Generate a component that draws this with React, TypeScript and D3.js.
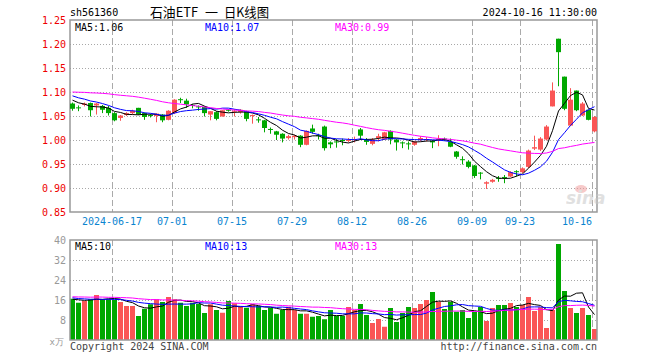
import * as d3 from 'd3';

// daily K-line, sh561360 石油ETF, 2024-06-05 .. 2024-10-16
const dates = [
  '06-05', '06-06', '06-07', '06-11', '06-12', '06-13', '06-14', '06-17', '06-18', '06-19',
  '06-20', '06-21', '06-24', '06-25', '06-26', '06-27', '06-28',
  '07-01', '07-02', '07-03', '07-04', '07-05', '07-08', '07-09', '07-10', '07-11', '07-12',
  '07-15', '07-16', '07-17', '07-18', '07-19', '07-22', '07-23', '07-24', '07-25', '07-26',
  '07-29', '07-30', '07-31',
  '08-01', '08-02', '08-05', '08-06', '08-07', '08-08', '08-09', '08-12', '08-13', '08-14',
  '08-15', '08-16', '08-19', '08-20', '08-21', '08-22', '08-23', '08-26', '08-27', '08-28',
  '08-29', '08-30',
  '09-02', '09-03', '09-04', '09-05', '09-06', '09-09', '09-10', '09-11', '09-12', '09-13',
  '09-18', '09-19', '09-20', '09-23', '09-24', '09-25', '09-26', '09-27', '09-30',
  '10-08', '10-09', '10-10', '10-11', '10-14', '10-15', '10-16',
];

const opens = [
  1.076, 1.068, 1.073, 1.077, 1.072, 1.071, 1.067, 1.056, 1.046, 1.052,
  1.056, 1.067, 1.056, 1.052, 1.05, 1.053, 1.042, 1.056, 1.085, 1.082,
  1.073, 1.07, 1.069, 1.053, 1.058, 1.049, 1.063, 1.06, 1.058, 1.06,
  1.05, 1.043, 1.041, 1.023, 1.018, 1.013, 1.004, 1.006, 1.009, 0.99,
  1.024, 1.01, 1.028, 0.995, 0.997, 1.0, 0.999, 1.0, 1.022, 1.0,
  0.992, 1.004, 1.001, 1.019, 1.001, 0.995, 0.993, 0.99, 1.0, 1.0,
  0.998, 1.001, 1.003, 0.996, 0.976, 0.96, 0.955, 0.947, 0.932, 0.909,
  0.913, 0.921, 0.923, 0.924, 0.935, 0.933, 0.944, 0.982, 0.98, 1.001,
  1.07, 1.211, 1.132, 1.03, 1.103, 1.051, 1.063, 1.018,
];
const highs = [
  1.078, 1.072, 1.078, 1.078, 1.077, 1.073, 1.071, 1.058, 1.052, 1.058,
  1.063, 1.067, 1.057, 1.054, 1.055, 1.054, 1.062, 1.085, 1.088, 1.086,
  1.075, 1.072, 1.07, 1.06, 1.06, 1.062, 1.064, 1.064, 1.064, 1.061,
  1.053, 1.048, 1.042, 1.026, 1.019, 1.014, 1.011, 1.011, 1.01, 1.02,
  1.032, 1.013, 1.03, 0.997, 1.002, 1.003, 1.004, 1.007, 1.025, 1.004,
  1.004, 1.013, 1.017, 1.02, 1.002, 0.997, 0.997, 0.998, 1.008, 1.006,
  1.0, 1.01, 1.005, 1.003, 0.977, 0.966, 0.958, 0.948, 0.933, 0.914,
  0.919, 0.925, 0.927, 0.935, 0.937, 0.943, 0.98, 1.009, 1.006, 1.031,
  1.12, 1.211, 1.132, 1.108, 1.103, 1.079, 1.063, 1.05,
];
const lows = [
  1.061, 1.06, 1.07, 1.049, 1.053, 1.056, 1.051, 1.039, 1.04, 1.05,
  1.053, 1.052, 1.042, 1.047, 1.037, 1.037, 1.041, 1.054, 1.077, 1.067,
  1.066, 1.061, 1.049, 1.041, 1.041, 1.049, 1.059, 1.049, 1.055, 1.039,
  1.034, 1.036, 1.016, 1.013, 1.0, 0.995, 1.001, 1.001, 0.985, 0.989,
  1.013, 1.001, 0.978, 0.983, 0.984, 0.989, 0.995, 0.995, 1.0, 0.99,
  0.989, 0.997, 1.0, 0.991, 0.978, 0.983, 0.98, 0.988, 0.997, 0.997,
  0.983, 0.987, 0.998, 0.985, 0.961, 0.949, 0.941, 0.921, 0.918, 0.898,
  0.911, 0.913, 0.91, 0.923, 0.924, 0.931, 0.941, 0.979, 0.977, 0.999,
  1.07, 1.112, 1.062, 1.029, 1.06, 1.05, 1.041, 1.016,
];
const closes = [
  1.065, 1.067, 1.076, 1.062, 1.076, 1.063, 1.056, 1.041, 1.051, 1.056,
  1.061, 1.053, 1.048, 1.051, 1.055, 1.041, 1.061, 1.084, 1.083, 1.074,
  1.072, 1.068, 1.056, 1.06, 1.044, 1.062, 1.061, 1.061, 1.063, 1.044,
  1.052, 1.042, 1.025, 1.021, 1.011, 1.003, 1.008, 1.009, 0.99, 1.019,
  1.017, 1.009, 0.983, 0.991, 0.996, 0.999, 1.0, 1.002, 1.009, 0.996,
  1.001, 1.008, 1.016, 1.001, 0.995, 0.994, 0.992, 0.997, 1.004, 1.002,
  0.995, 1.002, 1.002, 0.986, 0.965, 0.959, 0.944, 0.925, 0.93, 0.912,
  0.917, 0.919, 0.921, 0.933, 0.933, 0.941, 0.978, 0.985, 1.003, 1.028,
  1.103, 1.183, 1.065, 1.084, 1.062, 1.076, 1.042, 1.048,
];
// volume, 万手
const volumes = [
  16.5, 14.9, 15.6, 16.3, 18.0, 16.3, 16.3, 16.0, 15.2, 13.6,
  13.6, 9.6, 12.5, 14.3, 16.3, 15.2, 17.2, 16.3, 14.9, 13.6,
  14.9, 14.4, 10.8, 14.3, 12.0, 10.9, 15.6, 14.7, 13.2, 12.9,
  14.3, 13.6, 12.0, 12.9, 10.5, 12.0, 13.3, 12.0, 10.5, 10.5,
  9.3, 9.6, 8.3, 12.0, 9.6, 9.6, 13.2, 12.0, 14.4, 10.0,
  6.8, 8.4, 5.3, 12.8, 7.2, 10.8, 13.2, 12.8, 14.4, 16.0,
  19.2, 15.3, 12.4, 15.3, 11.3, 12.0, 8.8, 11.2, 13.2, 7.6,
  12.8, 14.0, 14.0, 14.8, 13.2, 14.0, 17.2, 11.6, 13.1, 4.8,
  12.0, 38.4, 19.6, 12.8, 10.8, 12.8, 10.0, 4.4,
];

// sessions before the window, backed out of where the MA lines start
const prevCloses = [
  1.08, 1.085, 1.09, 1.088, 1.084, 1.086, 1.092, 1.09, 1.088, 1.095,
  1.105, 1.112, 1.12, 1.125, 1.128, 1.122, 1.131, 1.124, 1.118, 1.116,
  1.108, 1.104, 1.1, 1.098, 1.095, 1.094, 1.09, 1.085, 1.081,
];
const prevVolumes = [
  17.5, 16.2, 18.4, 15.8, 17.0, 19.1, 16.4, 17.6, 15.9, 16.9,
  18.2, 17.4, 19.6, 16.8, 18.9, 17.1, 18.5, 16.6, 19.0, 17.1,
  18.1, 16.9, 17.8, 17.2, 17.5, 15.9, 16.8, 15.6, 16.7,
];

const tickDates = ['06-17', '07-01', '07-15', '07-29', '08-12', '08-26', '09-09', '09-23', '10-16'];
const tickLabels = ['2024-06-17', '07-01', '07-15', '07-29', '08-12', '08-26', '09-09', '09-23', '10-16'];
const priceTicks = [1.25, 1.2, 1.15, 1.1, 1.05, 1.0, 0.95, 0.9, 0.85];
const volumeTicks = [40, 32, 24, 16, 8];

const UP = '#fa5555';
const DOWN = '#00a800';
const MONO = "'DejaVu Sans Mono', monospace";
const CJK = "'Noto Sans CJK SC', sans-serif";

const movingAvg = (prev: number[], vals: number[], n: number) => {
  const all = prev.concat(vals);
  return vals.map((_, i) => d3.mean(all.slice(i + prev.length - n + 1, i + prev.length + 1)) as number);
};

const App = () => {
  const left = 70;
  const right = 597;
  const x = d3.scaleBand<string>().domain(dates).range([left, right]).paddingInner(1 / 6).paddingOuter(0);
  const y = d3.scaleLinear().domain([0.85, 1.25]).range([212, 20]);
  const yv = d3.scaleLinear().domain([0, 40]).range([340, 240]);
  const bw = x.bandwidth();
  const cx = (i: number) => (x(dates[i]) as number) + bw / 2;

  const ma = [5, 10, 30].map((n) => movingAvg(prevCloses, closes, n));
  const vma = [5, 10, 30].map((n) => movingAvg(prevVolumes, volumes, n));
  const maColors = ['#000000', '#0000ff', '#ff00ff'];
  const priceLine = d3.line<number>().x((_, i) => cx(i)).y((d) => y(d));
  const volLine = d3.line<number>().x((_, i) => cx(i)).y((d) => yv(d));
  const last = closes.length - 1;

  const isUp = (i: number) => closes[i] >= opens[i];
  // keep a date label inside the plot (the last one hugs the right edge)
  const labelX = (d: string, label: string) => {
    const half = (label.length * 6) / 2;
    return Math.min(x(d) as number, right - 5 - half);
  };

  return (
    <div style={{ position: 'absolute', left: 0, top: 0 }}>
      <svg width={660} height={360} style={{ display: 'block', background: '#fff' }}>
        {/* header */}
        <g fontFamily={MONO} fontSize={10} fill="#000">
          <text x={70} y={16}>sh561360</text>
          <text x={597} y={16} textAnchor="end">2024-10-16 11:30:00</text>
        </g>
        <g fontFamily={CJK} fontSize={13} fill="#000">
          <text x={150} y={17} textLength={48} lengthAdjust="spacingAndGlyphs">石油ETF</text>
          <text x={205} y={17}>一</text>
          <text x={224} y={17} textLength={45} lengthAdjust="spacingAndGlyphs">日K线图</text>
        </g>

        {/* price grid */}
        <g>
          {priceTicks.slice(1, -1).map((t) => (
            <line key={t} x1={left} x2={right} y1={Math.round(y(t)) + 0.5} y2={Math.round(y(t)) + 0.5}
              stroke="#a8a8a8" strokeDasharray="1,2" />
          ))}
          {tickDates.map((d) => (
            <line key={d} x1={(x(d) as number) + 0.5} x2={(x(d) as number) + 0.5} y1={20} y2={212}
              stroke="#aaa" strokeDasharray="6,3" />
          ))}
          <rect x={left} y={20} width={right - left} height={192} fill="none" stroke="#999" strokeWidth={1.5} />
        </g>

        {/* sina watermark */}
        <g opacity={0.55}>
          <ellipse cx={581} cy={189} rx={6} ry={4} fill="#f2a0a0" />
          <text x={566} y={204} fontFamily="'DejaVu Sans', sans-serif" fontStyle="italic" fontWeight="bold"
            fontSize={17} fill="#c8c8c8">sina</text>
        </g>

        {/* price axis */}
        <g fontFamily={MONO} fontSize={10} fill="#ee0000" textAnchor="end">
          {priceTicks.map((t) => (
            <text key={t} x={66} y={y(t) + 4}>{t.toFixed(2)}</text>
          ))}
        </g>

        {/* candles */}
        <g>
          {closes.map((c, i) => {
            const x0 = x(dates[i]) as number;
            const col = isUp(i) ? UP : DOWN;
            const top = y(Math.max(opens[i], c));
            const h = Math.max(1, y(Math.min(opens[i], c)) - top);
            return (
              <g key={dates[i]}>
                <line x1={x0 + 2.5} x2={x0 + 2.5} y1={y(highs[i])} y2={y(lows[i])} stroke={col} />
                <rect x={x0} y={top} width={bw} height={h} fill={col} />
              </g>
            );
          })}
        </g>
        {ma.map((m, k) => (
          <path key={k} d={priceLine(m) as string} fill="none" stroke={maColors[k]} strokeWidth={1} />
        ))}

        {/* price MA legend */}
        <g fontFamily={MONO} fontSize={10}>
          <text x={75} y={31} fill="#000">MA5:{ma[0][last].toFixed(2)}</text>
          <text x={205} y={31} fill="#0000ff">MA10:{ma[1][last].toFixed(2)}</text>
          <text x={335} y={31} fill="#ff00ff">MA30:{ma[2][last].toFixed(2)}</text>
        </g>

        {/* date labels */}
        <g fontFamily={MONO} fontSize={10} fill="#0a84d0" textAnchor="middle">
          {tickDates.map((d, k) => (
            <text key={d} x={labelX(d, tickLabels[k])} y={225}>{tickLabels[k]}</text>
          ))}
        </g>

        {/* volume panel */}
        <g>
          {volumeTicks.slice(1).map((t) => (
            <line key={t} x1={left} x2={right} y1={yv(t) + 0.5} y2={yv(t) + 0.5}
              stroke="#a8a8a8" strokeDasharray="1,2" />
          ))}
          {tickDates.map((d) => (
            <line key={d} x1={(x(d) as number) + 0.5} x2={(x(d) as number) + 0.5} y1={240} y2={340}
              stroke="#aaa" strokeDasharray="6,3" />
          ))}
        </g>
        <g>
          {volumes.map((v, i) => (
            <rect key={dates[i]} x={x(dates[i]) as number} y={yv(v)} width={bw} height={340 - yv(v)}
              fill={isUp(i) ? UP : DOWN} />
          ))}
        </g>
        {vma.map((m, k) => (
          <path key={k} d={volLine(m) as string} fill="none" stroke={maColors[k]} strokeWidth={1} />
        ))}
        <rect x={left} y={240} width={right - left} height={100} fill="none" stroke="#999" strokeWidth={1.5} />

        <g fontFamily={MONO} fontSize={10} fill="#999" textAnchor="end">
          {volumeTicks.map((t) => (
            <text key={t} x={66} y={yv(t) + 4}>{t}</text>
          ))}
          <text x={64} y={345} fontSize={9}>x万</text>
        </g>
        <g fontFamily={MONO} fontSize={10}>
          <text x={75} y={250} fill="#000">MA5:{Math.floor(vma[0][last])}</text>
          <text x={205} y={250} fill="#0000ff">MA10:{Math.floor(vma[1][last])}</text>
          <text x={335} y={250} fill="#ff00ff">MA30:{Math.floor(vma[2][last])}</text>
        </g>

        {/* footer */}
        <g fontFamily={MONO} fontSize={10} fill="#444">
          <text x={70} y={350}>Copyright 2024 SINA.COM</text>
          <text x={597} y={350} textAnchor="end">http://finance.sina.com.cn</text>
        </g>
      </svg>
    </div>
  );
};

export default App;
